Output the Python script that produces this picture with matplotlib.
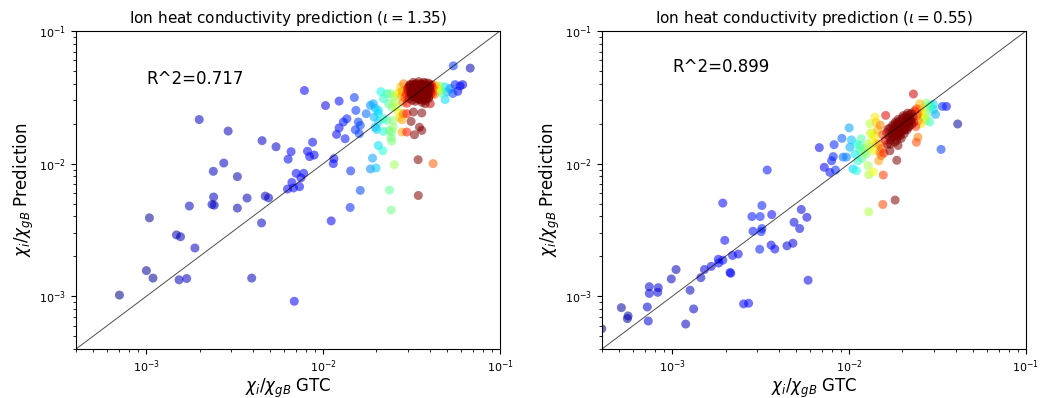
import numpy as np
import matplotlib.pyplot as plt

# ---- iota = 1.35 : GTC value vs. predicted value (chi_i / chi_gB) ----
gtc_135_outer = [1.99e-3, 2.90e-3, 4.51e-3, 5.41e-3, 6.58e-3, 6.33e-3, 2.74e-3, 2.39e-3, 3.27e-3, 2.40e-3,
                 2.35e-3, 2.42e-3, 1.75e-3, 3.27e-3, 3.71e-3, 4.70e-3, 4.91e-3, 1.04e-3, 1.48e-3, 1.56e-3,
                 1.88e-3, 4.48e-3, 1.00e-3, 1.09e-3, 1.53e-3, 1.69e-3, 3.94e-3, 7.04e-4, 6.86e-3, 7.83e-3,
                 1.03e-2, 1.23e-2, 1.50e-2, 1.53e-2, 1.36e-2, 1.30e-2, 1.23e-2, 1.19e-2, 1.33e-2, 1.58e-2,
                 1.62e-2, 1.52e-2, 1.60e-2, 8.71e-3, 8.15e-3, 8.38e-3, 8.89e-3, 1.15e-2, 1.14e-2, 7.03e-3,
                 7.75e-3, 7.48e-3, 6.65e-3, 6.28e-3, 6.79e-3, 7.35e-3, 1.43e-2, 1.62e-2, 1.42e-2, 1.11e-2,
                 5.44e-2, 6.78e-2, 5.57e-2, 5.94e-2, 6.15e-2, 5.77e-2, 5.22e-2, 5.41e-2, 4.89e-2, 5.00e-2,
                 4.89e-2, 4.39e-2, 4.58e-2, 4.03e-2, 3.77e-2, 3.61e-2, 3.24e-2, 2.97e-2, 2.84e-2, 3.14e-2,
                 3.50e-2, 3.61e-2, 3.28e-2, 2.97e-2, 2.79e-2, 3.44e-2, 4.18e-2, 3.45e-2, 2.52e-2, 2.37e-2,
                 2.42e-2, 1.85e-2, 1.99e-2, 1.90e-2, 2.05e-2, 2.17e-2, 2.42e-2, 2.44e-2, 2.49e-2, 2.44e-2,
                 2.01e-2, 2.19e-2, 2.36e-2, 1.75e-2, 1.85e-2, 1.92e-2, 2.05e-2, 2.18e-2, 2.29e-2, 2.12e-2,
                 2.29e-2, 2.19e-2, 2.39e-2, 2.34e-2, 2.44e-2, 1.97e-2, 2.05e-2, 1.94e-2, 2.05e-2, 1.97e-2,
                 2.61e-2, 2.49e-2, 2.55e-2, 2.58e-2, 2.66e-2, 2.72e-2, 2.79e-2, 2.49e-2, 2.75e-2, 2.80e-2,
                 2.85e-2, 2.78e-2, 2.83e-2, 2.70e-2, 4.30e-2, 4.40e-2, 4.60e-2, 4.70e-2, 4.25e-2]
pred_135_outer = [2.15e-2, 1.76e-2, 1.49e-2, 1.34e-2, 1.23e-2, 1.08e-2, 1.01e-2, 8.75e-3, 7.98e-3, 5.60e-3,
                  4.92e-3, 4.86e-3, 4.79e-3, 4.62e-3, 5.50e-3, 5.69e-3, 5.52e-3, 3.90e-3, 2.90e-3, 2.81e-3,
                  2.31e-3, 3.57e-3, 1.56e-3, 1.37e-3, 1.33e-3, 1.36e-3, 1.37e-3, 1.02e-3, 9.16e-4, 3.56e-2,
                  2.74e-2, 2.96e-2, 3.15e-2, 2.52e-2, 2.18e-2, 2.06e-2, 1.86e-2, 1.66e-2, 1.54e-2, 2.06e-2,
                  1.94e-2, 1.80e-2, 1.68e-2, 1.45e-2, 1.24e-2, 1.13e-2, 1.16e-2, 1.09e-2, 1.00e-2, 8.45e-3,
                  8.45e-3, 7.80e-3, 7.21e-3, 6.43e-3, 6.55e-3, 6.70e-3, 8.81e-3, 6.28e-3, 4.67e-3, 3.70e-3,
                  5.46e-2, 5.25e-2, 3.94e-2, 3.85e-2, 3.94e-2, 3.51e-2, 3.68e-2, 3.38e-2, 3.79e-2, 3.47e-2,
                  3.04e-2, 3.79e-2, 3.57e-2, 2.83e-2, 2.83e-2, 2.41e-2, 2.45e-2, 2.38e-2, 2.38e-2, 2.08e-2,
                  1.88e-2, 1.78e-2, 1.65e-2, 1.73e-2, 1.73e-2, 1.07e-2, 1.00e-2, 5.75e-3, 9.82e-3, 6.32e-3,
                  4.46e-3, 9.12e-3, 9.27e-3, 1.10e-2, 1.37e-2, 1.25e-2, 1.57e-2, 1.48e-2, 1.88e-2, 1.73e-2,
                  1.81e-2, 1.75e-2, 1.78e-2, 2.38e-2, 2.75e-2, 2.83e-2, 2.39e-2, 2.19e-2, 2.12e-2, 3.49e-2,
                  3.37e-2, 3.09e-2, 3.37e-2, 2.83e-2, 2.67e-2, 2.61e-2, 2.52e-2, 2.24e-2, 2.06e-2, 1.88e-2,
                  3.37e-2, 3.18e-2, 2.91e-2, 2.67e-2, 2.45e-2, 2.24e-2, 2.14e-2, 2.12e-2, 3.80e-2, 3.50e-2,
                  4.00e-2, 3.20e-2, 2.90e-2, 3.45e-2, 3.90e-2, 3.55e-2, 3.85e-2, 3.40e-2, 3.30e-2]
gtc_135_core = [0.0295, 0.0300, 0.0305, 0.0310, 0.0312, 0.0318, 0.0320, 0.0323, 0.0327, 0.0330,
                0.0332, 0.0335, 0.0338, 0.0340, 0.0342, 0.0345, 0.0347, 0.0350, 0.0352, 0.0355,
                0.0357, 0.0360, 0.0362, 0.0365, 0.0367, 0.0370, 0.0372, 0.0375, 0.0378, 0.0380,
                0.0383, 0.0386, 0.0390, 0.0393, 0.0396, 0.0400, 0.0405, 0.0410, 0.0415, 0.0420,
                0.0290, 0.0298, 0.0315, 0.0325, 0.0336, 0.0344, 0.0349, 0.0353, 0.0358, 0.0363,
                0.0368, 0.0373, 0.0377, 0.0382, 0.0388, 0.0395, 0.0402, 0.0412, 0.0341, 0.0351,
                0.0361, 0.0371, 0.0346, 0.0366, 0.0356, 0.0333, 0.0379, 0.0392, 0.0328, 0.0384,
                0.0302, 0.0308, 0.0314, 0.0319, 0.0324, 0.0329, 0.0334, 0.0339, 0.0343, 0.0348,
                0.0354, 0.0359, 0.0364, 0.0369, 0.0374, 0.0381, 0.0387, 0.0394, 0.0401, 0.0408,
                0.0306, 0.0316, 0.0326, 0.0337, 0.0347, 0.0357, 0.0367, 0.0376, 0.0385, 0.0397]
pred_135_core = [0.0335, 0.0370, 0.0310, 0.0395, 0.0345, 0.0300, 0.0360, 0.0410, 0.0330, 0.0385,
                 0.0295, 0.0350, 0.0400, 0.0320, 0.0370, 0.0340, 0.0415, 0.0305, 0.0385, 0.0355,
                 0.0330, 0.0395, 0.0290, 0.0365, 0.0340, 0.0410, 0.0315, 0.0375, 0.0350, 0.0300,
                 0.0390, 0.0335, 0.0365, 0.0405, 0.0320, 0.0380, 0.0350, 0.0395, 0.0335, 0.0370,
                 0.0315, 0.0285, 0.0325, 0.0375, 0.0310, 0.0392, 0.0362, 0.0318, 0.0372, 0.0345,
                 0.0388, 0.0358, 0.0328, 0.0368, 0.0382, 0.0352, 0.0365, 0.0378, 0.0335, 0.0345,
                 0.0355, 0.0338, 0.0305, 0.0302, 0.0400, 0.0355, 0.0405, 0.0335, 0.0345, 0.0312,
                 0.0352, 0.0388, 0.0338, 0.0372, 0.0320, 0.0398, 0.0362, 0.0342, 0.0380, 0.0325,
                 0.0368, 0.0345, 0.0390, 0.0322, 0.0362, 0.0340, 0.0378, 0.0310, 0.0392, 0.0342,
                 0.0380, 0.0360, 0.0395, 0.0348, 0.0372, 0.0338, 0.0395, 0.0325, 0.0358, 0.0372]

# ---- iota = 0.55 ----
gtc_055_outer = [3.44e-3, 7.23e-3, 7.78e-3, 1.93e-3, 2.82e-3, 3.14e-3, 3.21e-3, 3.65e-3, 2.86e-3, 3.18e-3,
                 3.21e-3, 5.36e-3, 5.77e-3, 4.88e-3, 5.25e-3, 1.98e-3, 3.12e-3, 3.62e-3, 3.80e-3, 4.45e-3,
                 4.81e-3, 5.86e-3, 1.82e-3, 1.93e-3, 1.83e-3, 1.66e-3, 1.52e-3, 2.19e-3, 2.36e-3, 2.12e-3,
                 2.14e-3, 1.05e-3, 9.87e-4, 1.45e-3, 1.26e-3, 7.41e-4, 8.33e-4, 7.41e-4, 8.27e-4, 7.22e-4,
                 5.15e-4, 5.62e-4, 5.57e-4, 7.31e-4, 1.32e-3, 2.53e-3, 2.70e-3, 1.19e-3, 3.99e-4, 2.31e-2,
                 3.37e-2, 3.55e-2, 3.08e-2, 4.11e-2, 3.31e-2, 6.78e-3, 8.22e-3, 9.10e-3, 1.00e-2, 8.13e-3,
                 7.96e-3, 8.37e-3, 9.25e-3, 9.66e-3, 1.03e-2, 1.01e-2, 1.05e-2, 1.10e-2, 1.17e-2, 1.15e-2,
                 1.28e-2, 1.29e-2, 1.37e-2, 1.47e-2, 1.56e-2, 1.40e-2, 1.31e-2, 1.35e-2, 1.86e-2, 1.55e-2,
                 1.82e-2, 1.29e-2, 2.51e-2, 2.73e-2, 2.86e-2, 2.99e-2, 2.40e-2, 2.45e-2, 2.62e-2, 2.73e-2,
                 2.86e-2, 2.40e-2, 2.45e-2, 1.61e-2, 1.23e-2, 1.31e-2, 1.43e-2, 1.70e-2, 1.89e-2, 1.49e-2,
                 1.52e-2]
pred_055_outer = [8.95e-3, 9.38e-3, 8.59e-3, 5.04e-3, 3.99e-3, 3.99e-3, 4.83e-3, 4.13e-3, 3.09e-3, 3.07e-3,
                  3.24e-3, 4.51e-3, 3.94e-3, 3.61e-3, 3.24e-3, 2.64e-3, 2.26e-3, 2.43e-3, 2.27e-3, 2.40e-3,
                  2.51e-3, 1.32e-3, 1.90e-3, 1.87e-3, 1.78e-3, 1.68e-3, 1.59e-3, 2.03e-3, 2.08e-3, 1.51e-3,
                  1.49e-3, 1.59e-3, 1.35e-3, 1.38e-3, 1.11e-3, 1.18e-3, 1.16e-3, 1.05e-3, 1.07e-3, 8.30e-4,
                  8.20e-4, 7.10e-4, 6.78e-4, 6.50e-4, 8.02e-4, 8.75e-4, 8.85e-4, 6.17e-4, 5.69e-4, 3.35e-2,
                  2.70e-2, 2.70e-2, 2.35e-2, 1.99e-2, 1.28e-2, 1.32e-2, 1.39e-2, 1.55e-2, 1.86e-2, 1.13e-2,
                  1.05e-2, 8.95e-3, 1.12e-2, 1.12e-2, 1.51e-2, 1.33e-2, 9.12e-3, 8.85e-3, 1.54e-2, 1.37e-2,
                  9.66e-3, 8.26e-3, 8.65e-3, 1.05e-2, 8.20e-3, 2.24e-2, 2.00e-2, 1.70e-2, 1.06e-2, 4.92e-3,
                  5.31e-3, 4.33e-3, 2.83e-2, 2.86e-2, 2.75e-2, 2.80e-2, 2.59e-2, 2.38e-2, 2.24e-2, 2.12e-2,
                  2.06e-2, 1.45e-2, 1.58e-2, 2.31e-2, 1.22e-2, 1.33e-2, 1.41e-2, 1.25e-2, 1.37e-2, 1.22e-2,
                  1.15e-2]
gtc_055_core = [0.0160, 0.0163, 0.0165, 0.0168, 0.0170, 0.0172, 0.0174, 0.0176, 0.0178, 0.0180,
                0.0182, 0.0183, 0.0185, 0.0186, 0.0188, 0.0190, 0.0191, 0.0193, 0.0194, 0.0196,
                0.0198, 0.0200, 0.0201, 0.0203, 0.0205, 0.0207, 0.0209, 0.0211, 0.0213, 0.0215,
                0.0217, 0.0219, 0.0222, 0.0224, 0.0227, 0.0230, 0.0166, 0.0171, 0.0177, 0.0181,
                0.0184, 0.0187, 0.0189, 0.0192, 0.0195, 0.0197, 0.0199, 0.0202, 0.0204, 0.0206,
                0.0208, 0.0210, 0.0212, 0.0214, 0.0216, 0.0218, 0.0221, 0.0225, 0.0179, 0.0187,
                0.0193, 0.0199, 0.0185, 0.0195, 0.0201, 0.0191, 0.0175, 0.0205,
                0.0140, 0.0145, 0.0148, 0.0150, 0.0153, 0.0155, 0.0157, 0.0135, 0.0138, 0.0142,
                0.0128, 0.0125, 0.0132, 0.0120, 0.0118, 0.0115, 0.0112, 0.0110, 0.0108,
                0.0232, 0.0235, 0.0238, 0.0242, 0.0246, 0.0250, 0.0255, 0.0258, 0.0265, 0.0270,
                0.0278, 0.0290, 0.0300]
pred_055_core = [0.0150, 0.0172, 0.0140, 0.0160, 0.0185, 0.0150, 0.0168, 0.0195, 0.0158, 0.0178,
                 0.0205, 0.0165, 0.0188, 0.0150, 0.0172, 0.0198, 0.0180, 0.0210, 0.0162, 0.0190,
                 0.0175, 0.0220, 0.0200, 0.0185, 0.0168, 0.0210, 0.0195, 0.0230, 0.0180, 0.0205,
                 0.0220, 0.0192, 0.0235, 0.0210, 0.0198, 0.0225, 0.0182, 0.0140, 0.0178, 0.0145,
                 0.0200, 0.0160, 0.0215, 0.0170, 0.0205, 0.0155, 0.0188, 0.0230, 0.0178, 0.0198,
                 0.0182, 0.0215, 0.0200, 0.0240, 0.0188, 0.0208, 0.0215, 0.0240, 0.0190, 0.0185,
                 0.0193, 0.0200, 0.0175, 0.0182, 0.0192, 0.0165, 0.0160, 0.0222,
                 0.0160, 0.0180, 0.0140, 0.0195, 0.0130, 0.0165, 0.0120, 0.0150, 0.0125, 0.0205,
                 0.0140, 0.0118, 0.0170, 0.0130, 0.0110, 0.0125, 0.0105, 0.0140, 0.0118,
                 0.0205, 0.0250, 0.0190, 0.0230, 0.0210, 0.0260, 0.0200, 0.0245, 0.0225, 0.0265,
                 0.0240, 0.0270, 0.0255]

panels = [
    (gtc_135_outer + gtc_135_core, pred_135_outer + pred_135_core, '1.35', 'R^2=0.717', 0.040),
    (gtc_055_outer + gtc_055_core, pred_055_outer + pred_055_core, '0.55', 'R^2=0.899', 0.049),
]


def kde_log(x, bw=0.065):
    # gaussian kde of log10(GTC value)
    lx = np.log10(x)
    d = (lx[:, None] - lx[None, :]) / bw
    return np.exp(-0.5 * d ** 2).sum(axis=1)


fig = plt.figure(figsize=(10.4, 3.98), dpi=100)
axes = [fig.add_axes([0.0731, 0.1231, 0.4077, 0.799]),
        fig.add_axes([0.5788, 0.1231, 0.4077, 0.799])]

for ax, (gtc, pred, iota, r2, ytxt) in zip(axes, panels):
    x = np.array(gtc)
    y = np.array(pred)
    z = kde_log(x)
    idx = z.argsort()
    ax.scatter(x[idx], y[idx], c=z[idx], cmap='jet', vmin=z.min(), vmax=0.85 * z.max(),
               s=42, alpha=0.55, linewidths=0, zorder=2)
    ax.plot([4e-4, 1e-1], [4e-4, 1e-1], color='k', lw=0.7, alpha=0.7, zorder=3)
    ax.set_xscale('log')
    ax.set_yscale('log')
    ax.set_xlim(4e-4, 1e-1)
    ax.set_ylim(4e-4, 1e-1)
    ax.text(1e-3, ytxt, r2, fontsize=12)
    ax.set_title(r'Ion heat conductivity prediction ($\iota = %s$)' % iota, fontsize=11)
    ax.set_xlabel(r'$\chi_i/\chi_{gB}$ GTC', fontsize=12, labelpad=1)
    ax.set_ylabel(r'$\chi_i/\chi_{gB}$ Prediction', fontsize=12, labelpad=2)
    ax.tick_params(labelsize=8)

fig.savefig('out.png', dpi=100)
